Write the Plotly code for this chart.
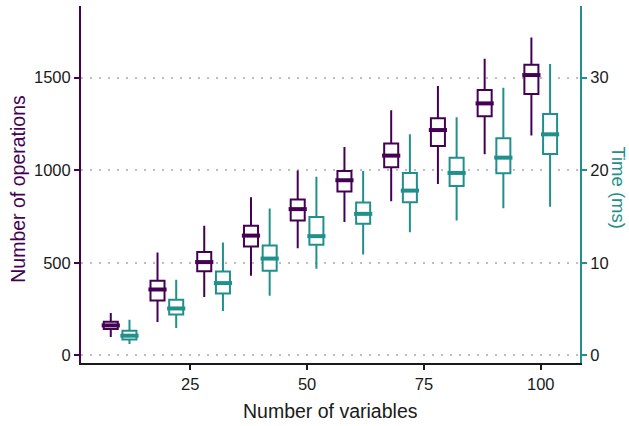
import plotly.graph_objects as go

# x positions of the box pairs
n_vars = [10, 20, 30, 40, 50, 60, 70, 80, 90, 100]
x_ops = [v - 2 for v in n_vars]
x_time = [v + 2 for v in n_vars]

# Number of operations (left axis)
ops_low = [99, 180, 315, 430, 579, 721, 833, 926, 1086, 1187]
ops_q1 = [142, 297, 455, 588, 728, 885, 1016, 1131, 1291, 1412]
ops_med = [162, 356, 504, 647, 790, 946, 1079, 1217, 1361, 1514]
ops_q3 = [182, 403, 558, 700, 842, 996, 1144, 1281, 1433, 1570]
ops_high = [229, 556, 700, 854, 998, 1126, 1324, 1455, 1602, 1717]

# Time in ms (right axis)
t_low = [1.23, 2.96, 4.79, 6.44, 9.35, 10.9, 13.31, 14.56, 15.9, 16.07]
t_q1 = [1.73, 4.42, 6.69, 9.14, 11.94, 14.21, 16.55, 18.31, 19.68, 21.76]
t_med = [2.13, 5.07, 7.81, 10.46, 12.88, 15.29, 17.8, 19.71, 21.36, 23.88]
t_q3 = [2.66, 6.01, 9.06, 11.87, 14.96, 16.51, 19.71, 21.36, 23.45, 26.07]
t_high = [3.85, 8.17, 12.19, 15.86, 19.31, 19.93, 23.88, 25.72, 28.91, 31.47]

x_ticks = [25, 50, 75, 100]
ops_ticks = [0, 500, 1000, 1500]
t_ticks = [0, 10, 20, 30]

PURPLE = "#440154"
TEAL = "#21908C"
FONT = "Liberation Sans"
TICK_SIZE = 16.5
TITLE_SIZE = 19.5

fig = go.Figure()

fig.add_trace(go.Box(
    x=x_ops, q1=ops_q1, median=ops_med, q3=ops_q3,
    lowerfence=ops_low, upperfence=ops_high,
    width=3, fillcolor="white", line=dict(color=PURPLE, width=2),
    whiskerwidth=0, boxpoints=False, showlegend=False, yaxis="y"))
fig.add_trace(go.Scatter(
    x=x_ops, y=ops_med, mode="markers", showlegend=False, yaxis="y",
    marker=dict(symbol="line-ew", size=13, color=PURPLE,
                line=dict(width=4, color=PURPLE)), hoverinfo="skip"))

fig.add_trace(go.Box(
    x=x_time, q1=t_q1, median=t_med, q3=t_q3,
    lowerfence=t_low, upperfence=t_high,
    width=3, fillcolor="white", line=dict(color=TEAL, width=2),
    whiskerwidth=0, boxpoints=False, showlegend=False, yaxis="y2"))
fig.add_trace(go.Scatter(
    x=x_time, y=t_med, mode="markers", showlegend=False, yaxis="y2",
    marker=dict(symbol="line-ew", size=13, color=TEAL,
                line=dict(width=4, color=TEAL)), hoverinfo="skip"))

fig.update_layout(
    width=629, height=426,
    margin=dict(l=81, r=49, t=6, b=63),
    paper_bgcolor="white", plot_bgcolor="white",
    font=dict(family=FONT, size=TICK_SIZE, color="#1a1a1a"),
    boxmode="overlay",
    xaxis=dict(range=[1.63, 108.4], tickvals=x_ticks, ticks="outside",
               ticklen=5, tickwidth=1.5, tickcolor="#1a1a1a",
               showline=True, linecolor="#1a1a1a", linewidth=1.5,
               showgrid=False, zeroline=False,
               tickfont=dict(size=TICK_SIZE, color="#1a1a1a")),
    yaxis=dict(range=[-41, 1887], tickvals=ops_ticks, ticks="outside",
               ticklen=5, tickwidth=1.5, tickcolor=PURPLE,
               showline=True, linecolor=PURPLE, linewidth=2,
               showgrid=True, gridcolor="#BEBEBE", gridwidth=1.5,
               griddash="2px,7px", zeroline=False,
               tickfont=dict(size=TICK_SIZE, color="#1a1a1a")),
    yaxis2=dict(range=[-0.82, 37.74], tickvals=t_ticks, ticks="outside",
                ticklen=5, tickwidth=1.5, tickcolor=TEAL,
                overlaying="y", side="right", anchor="x",
                showline=True, linecolor=TEAL, linewidth=2,
                showgrid=False, zeroline=False,
                tickfont=dict(size=TICK_SIZE, color="#1a1a1a")),
    annotations=[
        dict(text="Number of variables", xref="paper", yref="paper",
             x=0.5, y=-0.1335, xanchor="center", yanchor="middle",
             showarrow=False, font=dict(size=TITLE_SIZE, color="#1a1a1a")),
        dict(text="Number of operations", xref="paper", yref="paper",
             x=-0.1256, y=0.489, xanchor="center", yanchor="middle",
             textangle=-90, showarrow=False,
             font=dict(size=TITLE_SIZE, color=PURPLE)),
        dict(text="Time (ms)", xref="paper", yref="paper",
             x=1.0775, y=0.49, xanchor="center", yanchor="middle",
             textangle=90, showarrow=False,
             font=dict(size=18.5, color=TEAL)),
    ],
)

fig.write_html("out.html", config={"displayModeBar": False},
               post_script="document.body.style.margin='0';")
